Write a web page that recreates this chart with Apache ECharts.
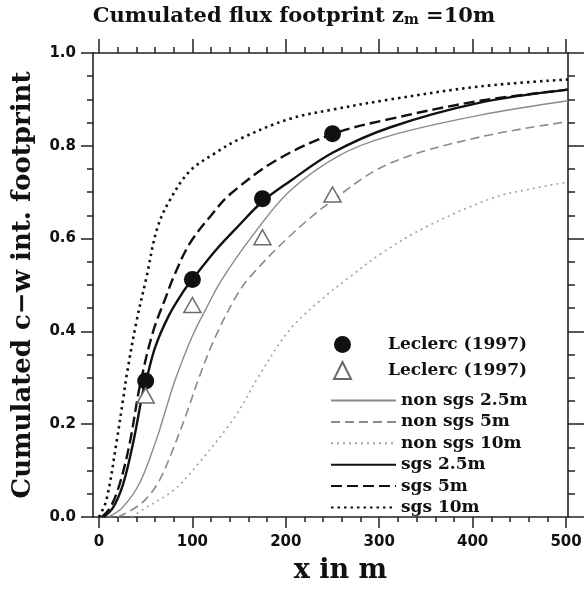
<!DOCTYPE html>
<html><head><meta charset="utf-8">
<script src="https://cdn.jsdelivr.net/npm/echarts@6/dist/echarts.min.js"></script>
<style>html,body{margin:0;padding:0;background:#fff}#c{width:588px;height:589px}</style>
</head><body><div id="c"></div>
<script>
// ---- data ----
const leclercCircX = [50, 100, 175, 250];
const leclercCircY = [0.293, 0.512, 0.686, 0.826];
const leclercTriX = [50, 100, 175, 250];
const leclercTriY = [0.262, 0.457, 0.603, 0.695];

const nonSgs25X = [10, 25, 44, 62, 72, 82, 100, 117, 131, 162, 204, 258, 312, 408, 502];
const nonSgs25Y = [0, 0.02, 0.075, 0.17, 0.235, 0.298, 0.39, 0.458, 0.51, 0.6, 0.702, 0.78, 0.822, 0.866, 0.897];

const nonSgs5X = [20, 35, 50, 65, 80, 95, 107, 125, 147, 162, 204, 251, 311, 408, 502];
const nonSgs5Y = [0, 0.015, 0.038, 0.08, 0.15, 0.23, 0.3, 0.39, 0.476, 0.518, 0.605, 0.684, 0.762, 0.819, 0.852];

const nonSgs10X = [35, 47, 80, 108, 140, 154, 170, 204, 240, 269, 300, 350, 422, 460, 502];
const nonSgs10Y = [0, 0.016, 0.058, 0.119, 0.2, 0.243, 0.3, 0.403, 0.472, 0.518, 0.565, 0.625, 0.688, 0.706, 0.722];

const sgs25X = [5, 15, 26, 37, 47, 50, 60, 75, 90, 100, 125, 151, 175, 204, 250, 312, 408, 502];
const sgs25Y = [0, 0.02, 0.072, 0.164, 0.27, 0.29, 0.365, 0.435, 0.485, 0.512, 0.575, 0.631, 0.68, 0.723, 0.785, 0.84, 0.893, 0.921];

const sgs5X = [3, 12, 22, 33, 44, 58, 72, 80, 97, 120, 140, 190, 251, 312, 408, 502];
const sgs5Y = [0, 0.02, 0.07, 0.16, 0.285, 0.4, 0.476, 0.518, 0.589, 0.65, 0.695, 0.769, 0.826, 0.858, 0.897, 0.921];

const sgs10X = [0, 8, 19, 26, 30, 40, 51, 62, 75, 97, 125, 151, 204, 250, 312, 408, 502];
const sgs10Y = [0, 0.037, 0.164, 0.256, 0.31, 0.42, 0.518, 0.62, 0.68, 0.745, 0.785, 0.815, 0.858, 0.878, 0.9, 0.928, 0.943];

const xTickValues = [0, 100, 200, 300, 400, 500];
const xMinorTickValues = [20,40,60,80,120,140,160,180,220,240,260,280,320,340,360,380,420,440,460,480];
const yTickLabels = ['0.0', '0.2', '0.4', '0.6', '0.8', '1.0'];

const titleMain = 'Cumulated flux footprint z';
const titleSub = 'm';
const titleTail = ' =10m';
const xName = 'x in m';
const yName = 'Cumulated c\u2212w int. footprint';
const leclercName = 'Leclerc (1997)';
const lineNames = ['non sgs 2.5m', 'non sgs 5m', 'non sgs 10m', 'sgs 2.5m', 'sgs 5m', 'sgs 10m'];

// ---- build ----
const zip = (xs, ys) => xs.map((x, i) => [x, ys[i]]);
const X_MIN = -6.4, X_MAX = 502.1;
const axisCol = '#222';
const serif = "'DejaVu Serif', serif";
const sans = "'DejaVu Sans', sans-serif";
const tickStyle = { color: axisCol, width: 1.5 };

function xAx(pos, values, len, showLine, extra) {
  return Object.assign({
    type: 'value', position: pos, min: X_MIN, max: X_MAX,
    axisLine: { show: showLine, onZero: false, lineStyle: { color: axisCol, width: 1.6 } },
    axisTick: { show: true, inside: false, length: len, customValues: values, lineStyle: tickStyle },
    axisLabel: { show: false },
    splitLine: { show: false }
  }, extra || {});
}

const chart = echarts.init(document.getElementById('c'), null, { renderer: 'canvas' });

const lineDefs = [
  { name: lineNames[0], xs: nonSgs25X, ys: nonSgs25Y, color: '#8a8a8a', width: 1.4, type: 'solid' },
  { name: lineNames[1], xs: nonSgs5X, ys: nonSgs5Y, color: '#8a8a8a', width: 1.6, type: [9, 5] },
  { name: lineNames[2], xs: nonSgs10X, ys: nonSgs10Y, color: '#a0a0a0', width: 1.6, type: [2, 4] },
  { name: lineNames[3], xs: sgs25X, ys: sgs25Y, color: '#111', width: 2.4, type: 'solid' },
  { name: lineNames[4], xs: sgs5X, ys: sgs5Y, color: '#111', width: 2.4, type: [11, 5] },
  { name: lineNames[5], xs: sgs10X, ys: sgs10Y, color: '#111', width: 2.6, type: [2.5, 4] }
];

const series = lineDefs.map(d => ({
  type: 'line', name: d.name, data: zip(d.xs, d.ys), xAxisIndex: 0, yAxisIndex: 0,
  symbol: 'none', showSymbol: false, smooth: 0.35, silent: true,
  lineStyle: { color: d.color, width: d.width, type: d.type }, itemStyle: { color: d.color }
}));
series.push({
  type: 'scatter', name: leclercName + ' A', data: zip(leclercCircX, leclercCircY),
  symbol: 'circle', symbolSize: 17, z: 5, itemStyle: { color: '#111', opacity: 1 }
});
series.push({
  type: 'scatter', name: leclercName + ' B', data: zip(leclercTriX, leclercTriY),
  symbol: 'triangle', symbolSize: [17, 15], z: 5,
  itemStyle: { color: '#fff', borderColor: '#6a6a6a', borderWidth: 1.5, opacity: 1 }
});

const legendText = { fontFamily: serif, fontWeight: 'bold', fontSize: 17, color: '#111' };

chart.setOption({
  animation: false,
  backgroundColor: '#fff',
  title: {
    text: titleMain + '{sub|' + titleSub + '}' + titleTail,
    left: 'center', top: 1,
    textStyle: {
      fontFamily: serif, fontWeight: 'bold', fontSize: 21, color: '#111',
      rich: { sub: { fontFamily: serif, fontWeight: 'bold', fontSize: 14, color: '#111', verticalAlign: 'bottom', lineHeight: 12 } }
    }
  },
  grid: { left: 93, right: 20, top: 53, bottom: 65 },
  xAxis: [
    xAx('bottom', xTickValues, 11, true, {
      axisLabel: { show: true, customValues: xTickValues, color: '#111', fontFamily: sans, fontWeight: 'bold', fontSize: 15, margin: 18 },
      name: xName, nameLocation: 'middle', nameGap: 40,
      nameTextStyle: { fontFamily: serif, fontWeight: 'bold', fontSize: 27, color: '#111', padding: [0, 0, 0, 20] }
    }),
    xAx('bottom', xMinorTickValues, 5, false),
    xAx('top', xTickValues, 14, true),
    xAx('top', xMinorTickValues, 6, false)
  ],
  yAxis: [
    {
      type: 'value', position: 'left', min: 0, max: 1, interval: 0.2,
      axisLine: { show: true, onZero: false, lineStyle: { color: axisCol, width: 1.6 } },
      axisTick: { show: true, inside: false, length: 12, lineStyle: tickStyle },
      minorTick: { show: true, splitNumber: 4, length: 6, lineStyle: tickStyle },
      axisLabel: { formatter: (v) => yTickLabels[Math.round(v / 0.2)], color: '#111', fontFamily: sans, fontWeight: 'bold', fontSize: 15, margin: 17 },
      splitLine: { show: false },
      name: yName, nameLocation: 'middle', nameGap: 57, nameRotate: 90,
      nameTextStyle: { fontFamily: serif, fontWeight: 'bold', fontSize: 26, color: '#111' }
    },
    {
      type: 'value', position: 'right', min: 0, max: 1, interval: 0.2,
      axisLine: { show: true, onZero: false, lineStyle: { color: axisCol, width: 1.6 } },
      axisTick: { show: true, inside: false, length: 16, lineStyle: tickStyle },
      minorTick: { show: true, splitNumber: 4, length: 7, lineStyle: tickStyle },
      axisLabel: { show: false },
      splitLine: { show: false }
    }
  ],
  legend: [
    {
      data: [leclercName + ' A', leclercName + ' B'],
      orient: 'vertical', left: 328, top: 331, itemWidth: 17, itemHeight: 17, itemGap: 8,
      selectedMode: false,
      formatter: () => leclercName,
      textStyle: Object.assign({ padding: [0, 0, 0, 32] }, legendText)
    },
    {
      data: lineNames,
      orient: 'vertical', left: 325, top: 387, itemWidth: 65, itemHeight: 14, itemGap: 4.4,
      selectedMode: false,
      itemStyle: { color: 'rgba(0,0,0,0)', borderWidth: 0, opacity: 0 },
      textStyle: legendText
    }
  ],
  series: series
});
</script>
</body></html>
